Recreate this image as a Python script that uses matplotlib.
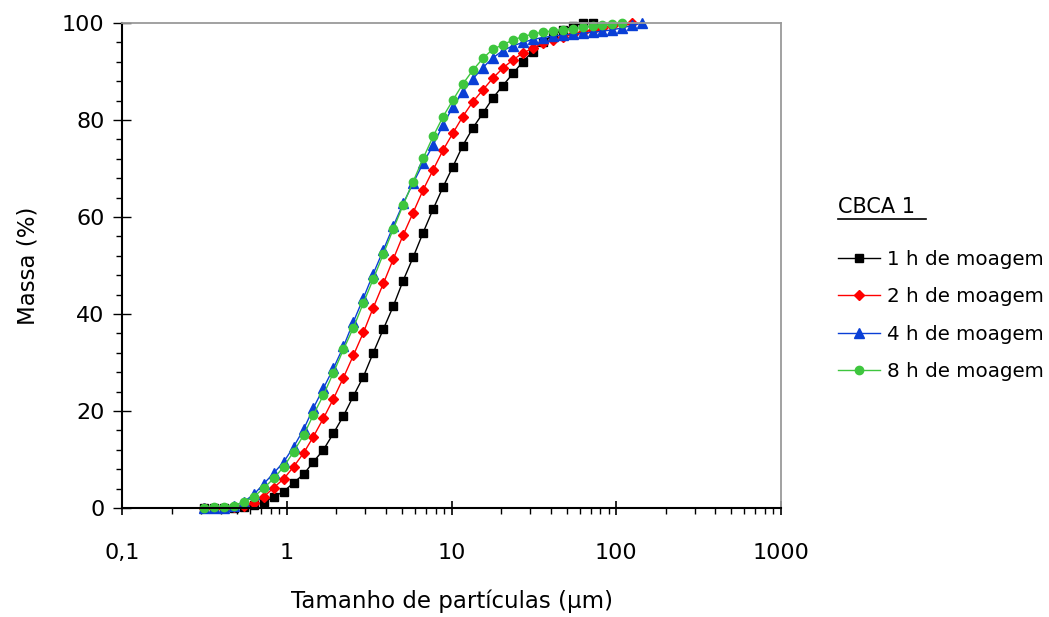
import matplotlib
matplotlib.use("Agg")
import matplotlib.pyplot as plt
from matplotlib.lines import Line2D
from matplotlib.ticker import FixedLocator, LogLocator, FuncFormatter, MultipleLocator, NullFormatter

# Particle size classes (µm)
particle_size = [0.315, 0.361, 0.416, 0.478, 0.549, 0.631, 0.725, 0.834, 0.958, 1.10,
                 1.27, 1.45, 1.67, 1.92, 2.21, 2.54, 2.92, 3.35, 3.86, 4.43,
                 5.09, 5.85, 6.73, 7.73, 8.89, 10.2, 11.7, 13.5, 15.5, 17.8,
                 20.5, 23.6, 27.1, 31.1, 35.8, 41.1, 47.3, 54.3, 62.4, 71.8,
                 82.5, 94.8, 109, 125, 144]

# Cumulative passing mass (%) for each grinding time
mass_1h = [0.0, 0.0, 0.0, 0.0, 0.2, 0.6, 1.2, 2.3, 3.4, 5.2,
           7.0, 9.5, 12.0, 15.4, 19.0, 23.1, 27.1, 32.0, 36.9, 41.6,
           46.9, 51.7, 56.8, 61.6, 66.2, 70.4, 74.7, 78.4, 81.4, 84.5,
           87.1, 89.6, 92.0, 94.1, 96.1, 97.5, 98.6, 99.4, 99.9, 100.0]
mass_2h = [0.0, 0.0, 0.0, 0.2, 0.5, 1.0, 2.3, 4.2, 6.0, 8.5,
           11.4, 14.7, 18.5, 22.5, 26.9, 31.5, 36.2, 41.3, 46.3, 51.3,
           56.3, 60.9, 65.6, 69.7, 73.8, 77.3, 80.7, 83.8, 86.2, 88.6,
           90.7, 92.4, 93.8, 94.8, 95.8, 96.5, 97.2, 97.7, 98.2, 98.6,
           99.0, 99.4, 99.7, 100.0]
mass_4h = [0.0, 0.05, 0.1, 0.4, 1.3, 2.8, 5.0, 7.2, 9.5, 12.6,
           16.3, 20.6, 24.7, 28.8, 33.3, 38.4, 43.3, 48.3, 53.2, 58.1,
           62.8, 67.0, 71.1, 74.8, 79.0, 82.7, 85.8, 88.5, 90.8, 92.8,
           94.3, 95.3, 96.0, 96.6, 97.0, 97.3, 97.5, 97.7, 97.9, 98.1,
           98.3, 98.6, 99.0, 99.5, 100.0]
mass_8h = [0.1, 0.15, 0.15, 0.5, 1.3, 2.3, 4.1, 6.1, 8.5, 11.6,
           15.1, 19.2, 23.3, 27.9, 32.7, 37.2, 42.3, 47.2, 52.4, 57.5,
           62.5, 67.3, 72.1, 76.6, 80.7, 84.1, 87.4, 90.3, 92.7, 94.6,
           95.5, 96.5, 97.2, 97.7, 98.1, 98.4, 98.6, 98.8, 99.1, 99.3,
           99.6, 99.8, 100.0]

labels = ["1 h de moagem", "2 h de moagem", "4 h de moagem", "8 h de moagem"]
x_ticks = [0.1, 1, 10, 100, 1000]
x_tick_labels = ["0,1", "1", "10", "100", "1000"]

plt.rcParams["font.family"] = ["DejaVu Sans"]

fig = plt.figure(figsize=(10.49, 6.17), dpi=100)
ax = fig.add_axes([122 / 1049, 1 - 508 / 617, (781 - 122) / 1049, (508 - 23) / 617])

styles = [
    dict(color="black", marker="s", ms=5.6),
    dict(color="#ff0000", marker="D", ms=5.0),
    dict(color="#0a3fd6", marker="^", ms=6.6),
    dict(color="#3ec63e", marker="o", ms=6.0),
]
series = [mass_1h, mass_2h, mass_4h, mass_8h]
handles = []
for values, st, lab in zip(series, styles, labels):
    (h,) = ax.plot(particle_size[:len(values)], values, color=st["color"], marker=st["marker"],
                   ms=st["ms"], mec=st["color"], mfc=st["color"], lw=1.0, label=lab,
                   clip_on=False)
    handles.append(h)

ax.set_xscale("log")
ax.set_xlim(0.1, 1000)
ax.set_ylim(0, 100)

ax.xaxis.set_major_locator(FixedLocator(x_ticks))
ax.xaxis.set_major_formatter(FuncFormatter(lambda v, p: x_tick_labels[x_ticks.index(v)] if v in x_ticks else ""))
ax.xaxis.set_minor_locator(LogLocator(base=10, subs=range(2, 10)))
ax.xaxis.set_minor_formatter(NullFormatter())
ax.yaxis.set_major_locator(MultipleLocator(20))
ax.yaxis.set_minor_locator(MultipleLocator(4))

ax.tick_params(axis="x", which="major", direction="inout", length=10, width=1.2,
               labelsize=16, pad=20, top=False)
ax.tick_params(axis="x", which="minor", direction="out", length=4.5, width=1.0, top=False)
ax.tick_params(axis="y", which="major", direction="inout", length=13, width=1.0,
               labelsize=16, pad=6, right=False)
ax.tick_params(axis="y", which="minor", direction="out", length=4, width=1.0, right=False)

for side in ("left", "bottom"):
    ax.spines[side].set_color("black")
    ax.spines[side].set_linewidth(1.5)
for side in ("top", "right"):
    ax.spines[side].set_color("#9a9a9a")
    ax.spines[side].set_linewidth(1.3)

ax.set_xlabel("Tamanho de partículas (µm)", fontsize=16.5, labelpad=19)
ax.set_ylabel("Massa (%)", fontsize=16.5, labelpad=16)

# Legend block with underlined heading
title = fig.text(838 / 1049, 1 - 207 / 617, "CBCA 1", fontsize=15, va="center", ha="left")
fig.add_artist(Line2D([838 / 1049, 926 / 1049], [1 - 219 / 617, 1 - 219 / 617],
                      color="black", lw=1.2))
fig.legend(handles=handles, labels=labels, loc="upper left",
           bbox_to_anchor=(838 / 1049, 1 - 250 / 617), frameon=False,
           fontsize=14.3, handlelength=2.1, handletextpad=0.35, labelspacing=0.92,
           borderaxespad=0, borderpad=0)

fig.savefig("out.png", dpi=100)
